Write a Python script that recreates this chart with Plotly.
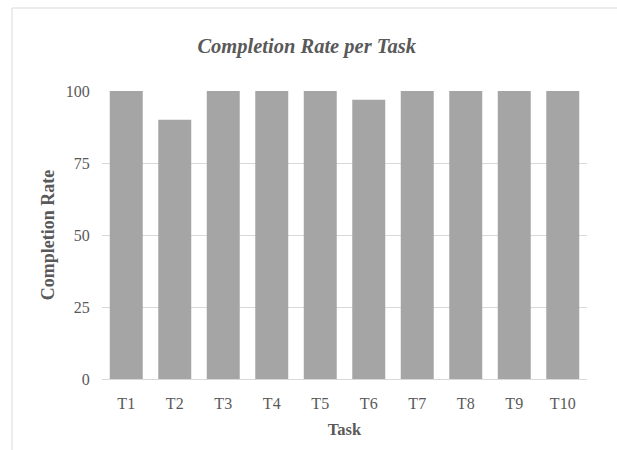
import plotly.graph_objects as go

tasks = ["T1", "T2", "T3", "T4", "T5", "T6", "T7", "T8", "T9", "T10"]
completion = [100, 90, 100, 100, 100, 97, 100, 100, 100, 100]
y_ticks = [0, 25, 50, 75, 100]

FONT = "Liberation Serif, Times New Roman, serif"
TXT = "#595959"

fig = go.Figure(go.Bar(x=tasks, y=completion, marker=dict(color="#a5a5a5", line=dict(width=0))))

L, R, T, B = 102, 30, 91, 71
W, H = 617, 450
pw, ph = W - L - R, H - T - B

def px(x):
    return (x - L) / pw

def py(y):
    return (H - B - y) / ph

fig.update_layout(
    width=W, height=H,
    margin=dict(l=L, r=R, t=T, b=B, pad=0),
    paper_bgcolor="white", plot_bgcolor="white",
    bargap=0.32,
    showlegend=False,
    font=dict(family=FONT, color=TXT, size=16),
    title=dict(text="<b><i>Completion Rate per Task</i></b>", x=0.497, xanchor="center",
               y=1 - 46 / H, yanchor="middle", font=dict(size=20.5, color=TXT, family=FONT)),
    xaxis=dict(showline=True, linecolor="#d9d9d9", linewidth=1, ticks="outside", ticklen=10,
               tickcolor="rgba(0,0,0,0)", tickfont=dict(size=16, color=TXT),
               title=dict(text="<b>Task</b>", font=dict(size=16.5, color=TXT), standoff=12)),
    yaxis=dict(range=[0, 100], tickvals=y_ticks, showgrid=True, gridcolor="#d9d9d9", gridwidth=1,
               zeroline=False, ticks="outside", ticklen=8, tickcolor="rgba(0,0,0,0)",
               tickfont=dict(size=16, color=TXT),
               title=dict(text="<b>Completion Rate</b>", font=dict(size=18, color=TXT), standoff=6)),
    shapes=[dict(type="rect", xref="paper", yref="paper", x0=px(12), x1=px(640), y0=py(480), y1=py(8),
                 line=dict(color="#d9d9d9", width=1), fillcolor="rgba(0,0,0,0)", layer="below")],
)

fig.write_html("out.html")
